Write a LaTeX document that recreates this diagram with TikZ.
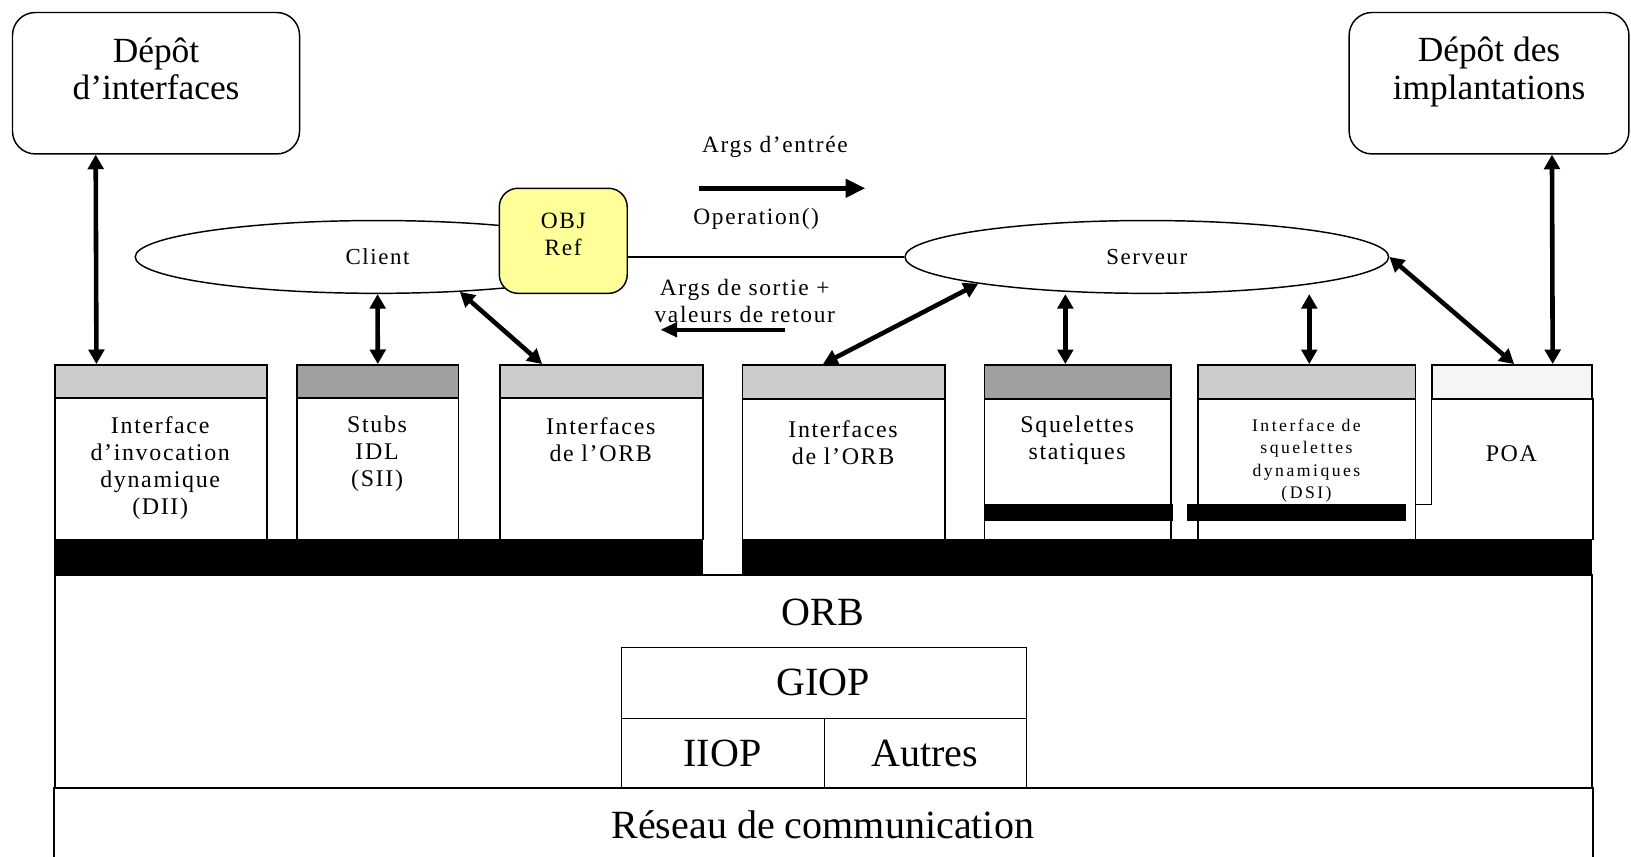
\documentclass[tikz,border=0pt]{standalone}
\usepackage{fontspec}
\setmainfont{Liberation Serif}
\usetikzlibrary{arrows.meta,shapes.geometric,calc}
\definecolor{lightstrip}{HTML}{CCCCCC}
\definecolor{darkstrip}{HTML}{A0A0A0}
\definecolor{palestrip}{HTML}{F5F5F5}
\definecolor{objyellow}{HTML}{FFFF99}
\begin{document}
\begin{tikzpicture}[x=1pt,y=-1pt,
  outl/.style={draw, line width=1.4pt},
  repo/.style={outl, rounded corners=22pt, inner sep=0pt},
  stripbox/.style={outl, anchor=north west, inner sep=0pt, minimum height=32pt},
  bodybox/.style={outl, anchor=north west, inner sep=0pt},
  blackbar/.style={fill=black, draw=black, anchor=north west, inner sep=0pt},
  txt/.style={align=center, inner sep=0pt},
  bigtxt/.style={txt, font=\fontsize{34}{36}\selectfont},
  midtxt/.style={txt, font=\fontsize{22.5}{26}\selectfont\addfontfeature{LetterSpace=7}},
  blktxt/.style={txt, font=\fontsize{23}{26}\selectfont\addfontfeature{LetterSpace=7}},
  smalltxt/.style={txt, font=\fontsize{17}{21.5}\selectfont\addfontfeature{LetterSpace=14}},
  hugetxt/.style={txt, font=\fontsize{38.5}{42}\selectfont},
  dbl/.style={line width=4.4pt, {Triangle[length=14pt,width=15pt]}-{Triangle[length=14pt,width=15pt]}},
  single/.style={line width=5pt, -{Triangle[length=19pt,width=17pt]}},
  thinarrow/.style={line width=3.4pt, -{Triangle[length=16pt,width=14pt]}},
]
\useasboundingbox (0,0) rectangle (1568,823);

% repositories
\node[repo, minimum width=276pt, minimum height=136pt] (di) at (150,80) {};
\node[bigtxt] (dit) at (150,66) {Dépôt\\d'interfaces};
\node[repo, minimum width=269pt, minimum height=136pt] (dimp) at (1431.5,80) {};
\node[bigtxt] (dimpt) at (1431.5,69) {Dépôt des\\implantations};

% client / server
\node[outl, ellipse, minimum width=466pt, minimum height=70pt, inner sep=0pt, font=\fontsize{22}{24}\selectfont\addfontfeature{LetterSpace=7}] (client) at (363,247) {Client};
\node[outl, ellipse, minimum width=465pt, minimum height=70pt, inner sep=0pt, font=\fontsize{22}{24}\selectfont\addfontfeature{LetterSpace=7}] (serveur) at (1102.5,247) {Serveur};
\node[outl, fill=objyellow, rounded corners=18pt, minimum width=123pt, minimum height=101pt, inner sep=0pt] (objref) at (541.5,231.5) {};
\node[midtxt] (objt) at (541.5,225) {OBJ\\Ref};
\draw[line width=1.4pt] (objref.east |- serveur.west) -- (serveur.west);

% operation arrows
\node[midtxt] (argsin) at (745,141) {Args d'entrée};
\node[midtxt] (oper) at (727,210) {Operation()};
\coordinate (ai1) at (672,181);
\coordinate (ai2) at (832,181);
\draw[single] (ai1) -- (ai2);
\node[midtxt] (argsout) at (716,289) {Args de sortie +\\valeurs de retour};
\coordinate (ao1) at (755,317);
\coordinate (ao2) at (635,317);
\draw[thinarrow] (ao1) -- (ao2);

% client side blocks
\node[stripbox, fill=lightstrip, minimum width=204pt] (s1) at (52,350) {};
\node[bodybox, minimum width=204pt, minimum height=136pt] (b1) at (52,382) {};
\node[blktxt] (t1) at (154,450) {Interface\\d'invocation\\dynamique\\(DII)};

\node[stripbox, fill=darkstrip, minimum width=155pt] (s2) at (285,350) {};
\node[bodybox, minimum width=155pt, minimum height=136pt] (b2) at (285,382) {};
\node[blktxt] (t2) at (362.5,436) {Stubs\\IDL\\(SII)};

\node[stripbox, fill=lightstrip, minimum width=195pt] (s3) at (480,350) {};
\node[bodybox, minimum width=195pt, minimum height=136pt] (b3) at (480,382) {};
\node[blktxt] (t3) at (577.5,423) {Interfaces\\de l'ORB};

\node[blackbar, minimum width=623pt, minimum height=34pt] (barl) at (52,518) {};

% server side blocks
\node[stripbox, fill=lightstrip, minimum width=195pt, minimum height=33pt] (s4) at (713,350) {};
\node[bodybox, minimum width=195pt, minimum height=135pt] (b4) at (713,383) {};
\node[blktxt] (t4) at (810.5,426) {Interfaces\\de l'ORB};

\node[stripbox, fill=darkstrip, minimum width=179pt, minimum height=33pt] (s5) at (946,350) {};
\node[bodybox, minimum width=179pt, minimum height=135pt] (b5) at (946,383) {};
\node[blackbar, minimum width=181pt, minimum height=15pt] (k5) at (946,485) {};
\node[blktxt] (t5) at (1035.5,423) {Squelettes\\statiques};

\node[stripbox, fill=lightstrip, minimum width=209pt, minimum height=33pt] (s6) at (1151,350) {};
\node[bodybox, minimum width=209pt, minimum height=135pt] (b6) at (1151,383) {};
\node[blackbar, minimum width=210pt, minimum height=15pt] (k6) at (1141,485) {};
\node[smalltxt] (t6) at (1256,443) {Interface de\\squelettes\\dynamiques\\(DSI)};

\node[stripbox, fill=palestrip, minimum width=154pt, minimum height=33pt] (s7) at (1376,350) {};
\node[bodybox, draw=none, minimum width=154pt, minimum height=135pt] (b7) at (1376,383) {};
\draw[line width=1.4pt] (b7.north east) -- (b7.south east);
\draw[line width=1.4pt] (b7.north west) -- ([yshift=-102pt]b7.north west) -- ([yshift=-102pt]b6.north east);
\node[blktxt] (t7) at (1453,436) {POA};

\node[blackbar, minimum width=817pt, minimum height=34pt] (barr) at (713,518) {};

% ORB
\node[bodybox, minimum width=1478pt, minimum height=205pt] (orb) at (52,552) {};
\node[hugetxt] (orbt) at (791,589) {ORB};
\node[bodybox, minimum width=389pt, minimum height=68pt] (giop) at (597,622) {};
\node[hugetxt] (giopt) at (791.5,656) {GIOP};
\node[bodybox, minimum width=195pt, minimum height=67pt] (iiop) at (597,690) {};
\node[hugetxt] (iiopt) at (694.5,724) {IIOP};
\node[bodybox, minimum width=194pt, minimum height=67pt] (autres) at (792,690) {};
\node[hugetxt] (autrest) at (889,724) {Autres};
\node[bodybox, draw=none, minimum width=1478pt, minimum height=70pt] (reseau) at (52,757) {};
\draw[line width=1.4pt] (reseau.south west) -- (reseau.north west) -- (reseau.north east) -- (reseau.south east);
\node[hugetxt] (reseaut) at (791,793) {Réseau de communication};

% connectors
\draw[dbl] ([xshift=-58pt]di.south) -- ([xshift=-62pt]s1.north);
\draw[dbl] ([xshift=60.5pt]dimp.south) -- ([xshift=39pt]s7.north);
\draw[dbl] (client.south) -- (s2.north);
\draw[dbl] (client.-23) -- ([xshift=-57pt]s3.north);
\draw[dbl] (serveur.-171) -- ([xshift=-20pt]s4.north);
\draw[dbl] ([xshift=-12pt]s5.north |- serveur.south) -- ([xshift=-12pt]s5.north);
\draw[dbl] ([xshift=2.5pt]s6.north |- serveur.south) -- ([xshift=2.5pt]s6.north);
\draw[dbl] (serveur.east) -- ([xshift=2pt]s7.north);
\end{tikzpicture}
\end{document}
